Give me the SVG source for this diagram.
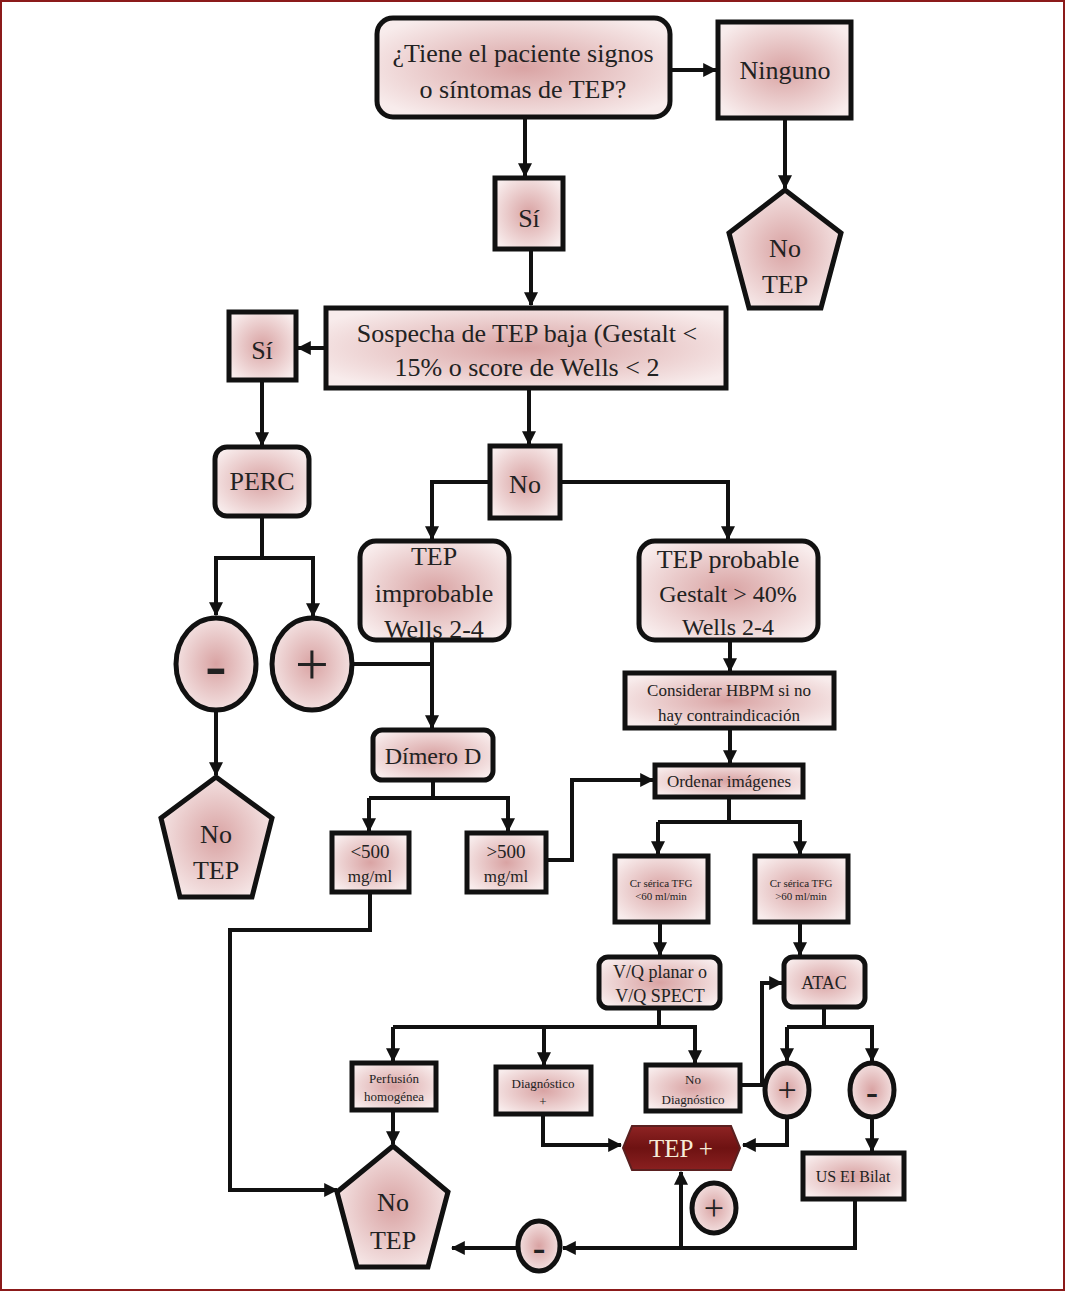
<svg xmlns="http://www.w3.org/2000/svg" width="1065" height="1291" viewBox="0 0 1065 1291">
<defs>
<radialGradient id="pk" cx="50%" cy="50%" r="60%">
<stop offset="0" stop-color="#d9a3a3"/>
<stop offset="1" stop-color="#f8ecec"/>
</radialGradient>
<linearGradient id="dr" x1="0" y1="0" x2="0" y2="1">
<stop offset="0" stop-color="#8e2323"/>
<stop offset="0.5" stop-color="#6e1212"/>
<stop offset="1" stop-color="#8a2020"/>
</linearGradient>
<marker id="ah" viewBox="0 0 12 12" refX="11" refY="6" markerWidth="14" markerHeight="14" markerUnits="userSpaceOnUse" orient="auto">
<path d="M0,0 L12,6 L0,12 Z" fill="#111"/>
</marker>
</defs>
<style>
.n{fill:url(#pk);stroke:#111;stroke-width:5}
.t{font-family:"Liberation Serif","Times New Roman",serif;fill:#222;text-anchor:middle}
.c{fill:none;stroke:#111;stroke-width:4}
.a{marker-end:url(#ah)}
</style>
<rect x="1" y="1" width="1063" height="1289" fill="#fff" stroke="#8b1a1a" stroke-width="2"/>

<g id="connectors">
<path class="c a" d="M670,70 H716"/>
<path class="c a" d="M525,117 V176"/>
<path class="c a" d="M785,118 V188"/>
<path class="c a" d="M531,249 V305"/>
<path class="c a" d="M326,348 H298"/>
<path class="c a" d="M262,380 V445"/>
<path class="c a" d="M529,388 V444"/>
<path class="c a" d="M490,482 H432 V539"/>
<path class="c a" d="M560,482 H728 V539"/>
<path class="c" d="M262,516 V558"/>
<path class="c a" d="M214,558 H313 V616"/>
<path class="c a" d="M216,558 V615"/>
<path class="c" d="M352,664 H432"/>
<path class="c a" d="M432,640 V728"/>
<path class="c a" d="M216,711 V775"/>
<path class="c" d="M433,780 V798"/>
<path class="c a" d="M369,798 H508 V831"/>
<path class="c a" d="M369,798 V831"/>
<path class="c a" d="M546,860 H572 V780 H653"/>
<path class="c a" d="M730,640 V671"/>
<path class="c a" d="M730,728 V763"/>
<path class="c" d="M729,797 V822"/>
<path class="c a" d="M658,822 H800 V854"/>
<path class="c a" d="M658,822 V854"/>
<path class="c a" d="M660,922 V955"/>
<path class="c a" d="M800,922 V955"/>
<path class="c" d="M659,1008 V1027"/>
<path class="c a" d="M393,1027 H695 V1063"/>
<path class="c a" d="M393,1027 V1061"/>
<path class="c a" d="M544,1027 V1065"/>
<path class="c a" d="M740,1085 H762 V983 H782"/>
<path class="c" d="M824,1007 V1027"/>
<path class="c a" d="M787,1027 H872 V1061"/>
<path class="c a" d="M787,1027 V1061"/>
<path class="c a" d="M787,1117 V1145 H743"/>
<path class="c a" d="M872,1117 V1151"/>
<path class="c a" d="M543,1114 V1145 H621"/>
<path class="c a" d="M855,1200 V1248 H563"/>
<path class="c a" d="M681,1248 V1172"/>
<path class="c a" d="M517,1248 H452"/>
<path class="c a" d="M393,1110 V1144"/>
<path class="c a" d="M370,892 V930 H230 V1190 H337"/>
</g>

<g id="n-signos">
<rect class="n" x="377" y="18" width="293" height="99" rx="16"/>
<text class="t" x="523" y="62" font-size="26">¿Tiene el paciente signos</text>
<text class="t" x="523" y="98" font-size="26">o síntomas de TEP?</text>
</g>
<g id="n-ninguno">
<rect class="n" x="718" y="22" width="133" height="96"/>
<text class="t" x="785" y="79" font-size="26">Ninguno</text>
</g>
<g id="n-si1">
<rect class="n" x="495" y="178" width="68" height="71"/>
<text class="t" x="529" y="227" font-size="26">Sí</text>
</g>
<g id="n-notep1">
<polygon class="n" points="785,190 841,233 821,308 749,308 729,233"/>
<text class="t" x="785" y="257" font-size="26">No</text>
<text class="t" x="785" y="293" font-size="26">TEP</text>
</g>
<g id="n-sospecha">
<rect class="n" x="326" y="308" width="400" height="80"/>
<text class="t" x="527" y="342" font-size="26">Sospecha de TEP baja (Gestalt &lt;</text>
<text class="t" x="527" y="376" font-size="26">15% o score de Wells &lt; 2</text>
</g>
<g id="n-si2">
<rect class="n" x="229" y="312" width="67" height="68"/>
<text class="t" x="262" y="359" font-size="26">Sí</text>
</g>
<g id="n-perc">
<rect class="n" x="215" y="447" width="94" height="69" rx="12"/>
<text class="t" x="262" y="490" font-size="26">PERC</text>
</g>
<g id="n-no">
<rect class="n" x="490" y="446" width="70" height="72"/>
<text class="t" x="525" y="493" font-size="26">No</text>
</g>
<g id="n-improbable">
<rect class="n" x="360" y="541" width="149" height="99" rx="16"/>
<text class="t" x="434" y="565" font-size="26">TEP</text>
<text class="t" x="434" y="602" font-size="26">improbable</text>
<text class="t" x="434" y="638" font-size="26">Wells 2-4</text>
</g>
<g id="n-probable">
<rect class="n" x="639" y="541" width="179" height="99" rx="16"/>
<text class="t" x="728" y="568" font-size="26">TEP probable</text>
<text class="t" x="728" y="602" font-size="24">Gestalt &gt; 40%</text>
<text class="t" x="728" y="635" font-size="24">Wells 2-4</text>
</g>
<g id="n-menos1">
<ellipse class="n" cx="216" cy="664" rx="40" ry="46"/>
<text class="t" x="216" y="686" font-size="64" font-weight="bold">-</text>
</g>
<g id="n-mas1">
<ellipse class="n" cx="312" cy="664" rx="40" ry="46"/>
<text class="t" x="312" y="684" font-size="60">+</text>
</g>
<g id="n-notep2">
<polygon class="n" points="216,777 272,818 252,897 180,897 161,818"/>
<text class="t" x="216" y="843" font-size="26">No</text>
<text class="t" x="216" y="879" font-size="26">TEP</text>
</g>
<g id="n-dimero">
<rect class="n" x="373" y="730" width="120" height="50" rx="9"/>
<text class="t" x="433" y="764" font-size="24">Dímero D</text>
</g>
<g id="n-menor500">
<rect class="n" x="332" y="833" width="77" height="59"/>
<text class="t" x="370" y="858" font-size="19">&lt;500</text>
<text class="t" x="370" y="882" font-size="17">mg/ml</text>
</g>
<g id="n-mayor500">
<rect class="n" x="467" y="833" width="79" height="59"/>
<text class="t" x="506" y="858" font-size="19">&gt;500</text>
<text class="t" x="506" y="882" font-size="17">mg/ml</text>
</g>
<g id="n-hbpm">
<rect class="n" x="625" y="673" width="209" height="55"/>
<text class="t" x="729" y="696" font-size="17">Considerar  HBPM si no</text>
<text class="t" x="729" y="721" font-size="17">hay contraindicación</text>
</g>
<g id="n-ordenar">
<rect class="n" x="655" y="765" width="148" height="32"/>
<text class="t" x="729" y="787" font-size="17">Ordenar imágenes</text>
</g>
<g id="n-cr60menor">
<rect class="n" x="615" y="856" width="93" height="66"/>
<text class="t" x="661" y="887" font-size="11">Cr sérica TFG</text>
<text class="t" x="661" y="900" font-size="11">&lt;60  ml/min</text>
</g>
<g id="n-cr60mayor">
<rect class="n" x="755" y="856" width="93" height="66"/>
<text class="t" x="801" y="887" font-size="11">Cr sérica TFG</text>
<text class="t" x="801" y="900" font-size="11">&gt;60  ml/min</text>
</g>
<g id="n-vq">
<rect class="n" x="599" y="957" width="121" height="51" rx="9"/>
<text class="t" x="660" y="978" font-size="18">V/Q planar  o</text>
<text class="t" x="660" y="1002" font-size="18">V/Q SPECT</text>
</g>
<g id="n-atac">
<rect class="n" x="784" y="957" width="81" height="50" rx="9"/>
<text class="t" x="824" y="989" font-size="18">ATAC</text>
</g>
<g id="n-perfusion">
<rect class="n" x="352" y="1063" width="84" height="47"/>
<text class="t" x="394" y="1083" font-size="13">Perfusión</text>
<text class="t" x="394" y="1101" font-size="13">homogénea</text>
</g>
<g id="n-diagmas">
<rect class="n" x="496" y="1067" width="95" height="47"/>
<text class="t" x="543" y="1088" font-size="13">Diagnóstico</text>
<text class="t" x="543" y="1106" font-size="13">+</text>
</g>
<g id="n-nodiag">
<rect class="n" x="646" y="1065" width="94" height="46"/>
<text class="t" x="693" y="1084" font-size="13">No</text>
<text class="t" x="693" y="1104" font-size="13">Diagnóstico</text>
</g>
<g id="n-mas2">
<ellipse class="n" cx="787" cy="1090" rx="22" ry="27"/>
<text class="t" x="787" y="1101" font-size="34">+</text>
</g>
<g id="n-menos2">
<ellipse class="n" cx="872" cy="1090" rx="22" ry="27"/>
<text class="t" x="872" y="1104" font-size="36" font-weight="bold">-</text>
</g>
<g id="n-usei">
<rect class="n" x="803" y="1153" width="101" height="46"/>
<text class="t" x="853" y="1182" font-size="16">US EI Bilat</text>
</g>
<g id="n-tepmas">
<polygon points="623,1148 632,1126 731,1126 740,1148 731,1170 632,1170" fill="url(#dr)" stroke="#5a2020" stroke-width="2"/>
<text x="681" y="1157" font-size="25" text-anchor="middle" font-family="Liberation Serif, serif" fill="#f6ecd8">TEP +</text>
</g>
<g id="n-mas3">
<ellipse class="n" cx="714" cy="1208" rx="22" ry="25"/>
<text class="t" x="714" y="1220" font-size="36">+</text>
</g>
<g id="n-menos3">
<ellipse class="n" cx="539" cy="1246" rx="21" ry="25"/>
<text class="t" x="539" y="1260" font-size="38" font-weight="bold">-</text>
</g>
<g id="n-notep3">
<polygon class="n" points="393,1146 448,1192 428,1267 357,1267 337,1192"/>
<text class="t" x="393" y="1211" font-size="26">No</text>
<text class="t" x="393" y="1249" font-size="26">TEP</text>
</g>
</svg>
